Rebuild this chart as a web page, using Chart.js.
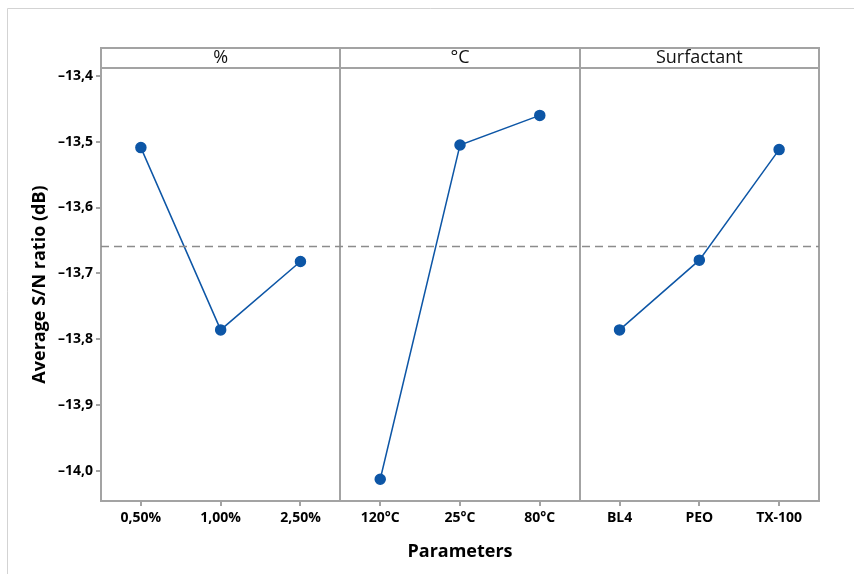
<!DOCTYPE html>
<html>
<head>
<meta charset="utf-8">
<script src="https://cdn.jsdelivr.net/npm/chart.js@4"></script>
<style>
  body { margin: 0; background: #fff; }
  canvas { display: block; }
</style>
</head>
<body>
<canvas id="chart" width="854" height="574"></canvas>
<script>
// main effects for S/N ratios, one panel per factor
const panelNames = ['%', '°C', 'Surfactant'];
const pctLevels = ['0,50%', '1,00%', '2,50%'];
const pctSN = [-13.509, -13.786, -13.682];
const tempLevels = ['120°C', '25°C', '80°C'];
const tempSN = [-14.013, -13.505, -13.460];
const surfLevels = ['BL4', 'PEO', 'TX-100'];
const surfSN = [-13.786, -13.680, -13.512];
const yTicks = [-14.0, -13.9, -13.8, -13.7, -13.6, -13.5, -13.4];

const levels = [...pctLevels, ...tempLevels, ...surfLevels];
const allSN = [...pctSN, ...tempSN, ...surfSN];
const grandMean = allSN.reduce((a, b) => a + b, 0) / allSN.length;

const blue = '#0d56a6';
const frameColor = '#a3a3a3';
const X_MIN = -0.5, X_MAX = 8.5;

function seriesPoints(values, offset) {
  return values.map((v, i) => ({ x: offset + i, y: v }));
}

function fmt(v) {
  return v.toFixed(1).replace('.', ',').replace('-', '–');
}

const panelFrames = {
  id: 'panelFrames',
  beforeDraw(chart) {
    const ctx = chart.ctx;
    ctx.save();
    ctx.fillStyle = '#fff';
    ctx.fillRect(0, 0, chart.width, chart.height);
    ctx.strokeStyle = '#d3d3d3';
    ctx.lineWidth = 1;
    ctx.beginPath();
    ctx.moveTo(7.5, chart.height);
    ctx.lineTo(7.5, 8.5);
    ctx.lineTo(chart.width, 8.5);
    ctx.stroke();
    ctx.restore();
  },
  beforeDatasetsDraw(chart) {
    const { ctx, chartArea: a, scales: { x } } = chart;
    const headTop = a.top - 20;
    ctx.save();
    ctx.strokeStyle = frameColor;
    ctx.lineWidth = 2;
    ctx.strokeRect(a.left, headTop, a.right - a.left, a.bottom - headTop);
    ctx.beginPath();
    ctx.moveTo(a.left, a.top);
    ctx.lineTo(a.right, a.top);
    [2.5, 5.5].forEach(b => {
      const px = Math.round(x.getPixelForValue(b));
      ctx.moveTo(px, headTop);
      ctx.lineTo(px, a.bottom);
    });
    ctx.stroke();
    ctx.fillStyle = '#111';
    ctx.font = '18px "Open Sans"';
    ctx.textAlign = 'center';
    ctx.textBaseline = 'middle';
    panelNames.forEach((name, i) => {
      const cx = (x.getPixelForValue(i * 3 - 0.5) + x.getPixelForValue(i * 3 + 2.5)) / 2;
      ctx.fillText(name, cx, headTop + 10);
    });
    ctx.restore();
  }
};

const lineStyle = {
  borderColor: blue,
  backgroundColor: blue,
  borderWidth: 1.5,
  pointRadius: 5,
  pointHoverRadius: 5,
  pointBackgroundColor: blue,
  pointBorderColor: blue,
  tension: 0
};

new Chart(document.getElementById('chart'), {
  type: 'line',
  data: {
    datasets: [
      {
        data: [{ x: X_MIN, y: grandMean }, { x: X_MAX, y: grandMean }],
        borderColor: '#8c8c8c',
        borderWidth: 1.5,
        borderDash: [8, 5],
        pointRadius: 0
      },
      { ...lineStyle, data: seriesPoints(pctSN, 0) },
      { ...lineStyle, data: seriesPoints(tempSN, 3) },
      { ...lineStyle, data: seriesPoints(surfSN, 6) }
    ]
  },
  options: {
    responsive: false,
    animation: false,
    devicePixelRatio: 1,
    layout: { padding: { top: 68, right: 35, left: 0, bottom: 0 } },
    plugins: { legend: { display: false }, tooltip: { enabled: false } },
    scales: {
      x: {
        type: 'linear',
        min: X_MIN,
        max: X_MAX,
        afterBuildTicks: (scale) => { scale.ticks = levels.map((_, i) => ({ value: i })); },
        afterFit: (scale) => { scale.height = 73; },
        grid: { drawOnChartArea: false, tickLength: 5, color: frameColor, lineWidth: 2 },
        border: { display: false },
        ticks: {
          autoSkip: false,
          maxRotation: 0,
          padding: 4,
          color: '#000',
          font: { family: 'Open Sans', size: 14, weight: 'bold' },
          callback: (v) => levels[v]
        },
        title: {
          display: true,
          text: 'Parameters',
          color: '#000',
          font: { family: 'Open Sans', size: 18, weight: 'bold' },
          padding: { bottom: 11 }
        }
      },
      y: {
        min: -14.046,
        max: -13.388,
        afterBuildTicks: (scale) => { scale.ticks = yTicks.map(v => ({ value: v })); },
        afterFit: (scale) => { scale.width = 101; },
        grid: { drawOnChartArea: false, tickLength: 5, color: frameColor, lineWidth: 2 },
        border: { display: false },
        ticks: {
          padding: 3,
          color: '#000',
          font: { family: 'Open Sans', size: 14, weight: 'bold' },
          callback: (v) => fmt(v)
        },
        title: {
          display: true,
          text: 'Average S/N ratio (dB)',
          color: '#000',
          font: { family: 'Open Sans', size: 18, weight: 'bold' },
          padding: { top: 29 }
        }
      }
    }
  },
  plugins: [panelFrames]
});
</script>
</body>
</html>
